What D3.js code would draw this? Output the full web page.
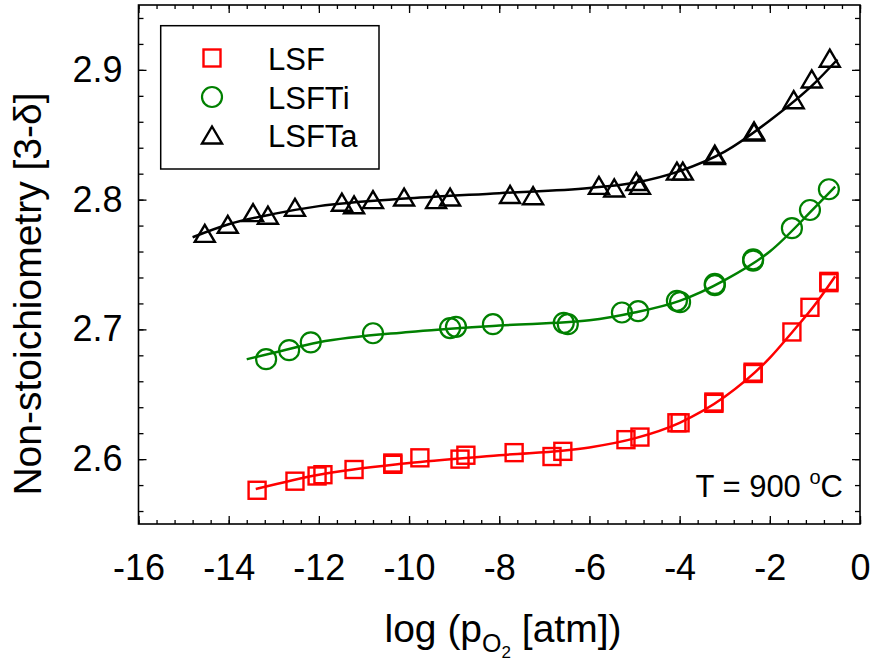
<!DOCTYPE html>
<html><head><meta charset="utf-8">
<script src="https://cdn.jsdelivr.net/npm/d3@7"></script>
<style>body{margin:0;background:#fff;} svg{display:block;font-family:"Liberation Sans",Arial,sans-serif;}</style>
</head><body><svg id="c" width="872" height="664"></svg>
<script>
// ---- data ----
const xTickValues = [-16, -14, -12, -10, -8, -6, -4, -2, 0];
const xTickLabels = ["-16", "-14", "-12", "-10", "-8", "-6", "-4", "-2", "0"];
const yTickValues = [2.6, 2.7, 2.8, 2.9];
const yTickLabels = ["2.6", "2.7", "2.8", "2.9"];
const seriesNames = ["LSF", "LSFTi", "LSFTa"];
const seriesColors = ["#ff0000", "#008000", "#000000"];

const lsfLogP = [-13.37,-12.53,-12.04,-11.91,-11.22,-10.36,-10.36,-9.76,-8.87,-8.74,-7.67,-6.83,-6.59,-5.19,-4.88,-4.06,-3.99,-3.24,-3.24,-2.37,-2.37,-1.51,-1.11,-0.69,-0.69];
const lsfVal  = [2.576,2.583,2.587,2.588,2.592,2.597,2.596,2.601,2.600,2.603,2.605,2.602,2.606,2.615,2.617,2.628,2.628,2.643,2.644,2.666,2.667,2.698,2.717,2.737,2.736];

const tiLogP = [-13.17,-12.66,-12.18,-10.80,-9.09,-8.96,-8.14,-6.57,-6.48,-5.28,-4.92,-4.06,-3.99,-3.22,-3.22,-2.37,-2.37,-1.51,-1.11,-0.69];
const tiVal  = [2.677,2.684,2.690,2.697,2.701,2.702,2.704,2.705,2.704,2.713,2.714,2.722,2.721,2.734,2.735,2.754,2.753,2.778,2.792,2.808];

const taLogP = [-14.53,-14.02,-13.46,-13.13,-12.53,-11.49,-11.22,-10.80,-10.11,-9.40,-9.09,-7.76,-7.25,-5.79,-5.45,-4.96,-4.88,-4.06,-3.93,-3.22,-3.22,-2.35,-2.35,-1.47,-1.07,-0.67];
const taVal  = [2.774,2.781,2.790,2.788,2.794,2.798,2.796,2.800,2.802,2.800,2.802,2.804,2.803,2.811,2.809,2.814,2.811,2.822,2.822,2.834,2.835,2.852,2.853,2.877,2.893,2.909];

// fitted curves
const lsfFitX = [-13.4,-12,-10,-8,-6,-5,-4,-3,-2,-1.5,-1,-0.55];
const lsfFitY = [2.577,2.588,2.597,2.603,2.609,2.616,2.628,2.648,2.678,2.698,2.719,2.741];
const tiFitX = [-13.6,-13,-12,-10,-8,-6,-5,-4,-3,-2,-1,-0.55];
const tiFitY = [2.677,2.682,2.690,2.698,2.703,2.707,2.713,2.722,2.738,2.760,2.794,2.810];
const taFitX = [-14.8,-14,-13,-12,-10,-8,-6,-5,-4,-3,-2,-1,-0.5];
const taFitY = [2.771,2.781,2.789,2.795,2.801,2.805,2.809,2.813,2.822,2.837,2.861,2.890,2.908];

// ---- layout ----
const L = 138.5, R = 860, T = 5, B = 524;
const svg = d3.select("#c");
const x = d3.scaleLinear().domain([-16, 0]).range([L, R]);
const y = d3.scaleLinear().domain([2.55, 2.95]).range([B, T]);

const xMinor = d3.range(-16, 0.001, 0.4).map(v => +v.toFixed(2));
const yMinor = d3.range(2.56, 2.9401, 0.02).map(v => +v.toFixed(3));

function styleAxis(g) {
  g.select(".domain").remove();
  g.selectAll("line").attr("stroke", "#000").attr("stroke-width", 1.3);
}
// minor ticks
svg.append("g").attr("transform", `translate(0,${B})`)
  .call(d3.axisBottom(x).tickValues(xMinor).tickSize(-4).tickFormat("")).call(styleAxis);
svg.append("g").attr("transform", `translate(0,${T})`)
  .call(d3.axisTop(x).tickValues(xMinor).tickSize(-4).tickFormat("")).call(styleAxis);
svg.append("g").attr("transform", `translate(${L},0)`)
  .call(d3.axisLeft(y).tickValues(yMinor).tickSize(-5).tickFormat("")).call(styleAxis);
svg.append("g").attr("transform", `translate(${R},0)`)
  .call(d3.axisRight(y).tickValues(yMinor).tickSize(-5).tickFormat("")).call(styleAxis);
// major ticks with labels
const xb = svg.append("g").attr("transform", `translate(0,${B})`)
  .call(d3.axisBottom(x).tickValues(xTickValues).tickSize(-8).tickPadding(30)
    .tickFormat((d, i) => xTickLabels[i]))
  .call(styleAxis);
xb.selectAll("text").attr("font-size", 36).attr("fill", "#000")
  .attr("font-family", '"Liberation Sans",Arial,sans-serif');
svg.append("g").attr("transform", `translate(0,${T})`)
  .call(d3.axisTop(x).tickValues(xTickValues).tickSize(-8).tickFormat("")).call(styleAxis);
const yl = svg.append("g").attr("transform", `translate(${L},0)`)
  .call(d3.axisLeft(y).tickValues(yTickValues).tickSize(-8).tickPadding(16)
    .tickFormat((d, i) => yTickLabels[i]))
  .call(styleAxis);
yl.selectAll("text").attr("font-size", 36).attr("fill", "#000")
  .attr("font-family", '"Liberation Sans",Arial,sans-serif');
svg.append("g").attr("transform", `translate(${R},0)`)
  .call(d3.axisRight(y).tickValues(yTickValues).tickSize(-8).tickFormat("")).call(styleAxis);

// frame
svg.append("rect").attr("x", L).attr("y", T).attr("width", R - L).attr("height", B - T)
  .attr("fill", "none").attr("stroke", "#000").attr("stroke-width", 1.6);

// fit curves
const line = d3.line().x(d => x(d[0])).y(d => y(d[1])).curve(d3.curveMonotoneX);
const fits = [[lsfFitX, lsfFitY], [tiFitX, tiFitY], [taFitX, taFitY]];
fits.forEach((f, i) => {
  svg.append("path").datum(f[0].map((v, j) => [v, f[1][j]]))
    .attr("d", line).attr("fill", "none").attr("stroke", seriesColors[i]).attr("stroke-width", 2.5);
});

// markers
function drawMarker(g, type, cx, cy, color) {
  if (type === 0) {
    g.append("rect").attr("x", cx - 8.5).attr("y", cy - 8.5).attr("width", 17).attr("height", 17)
      .attr("fill", "none").attr("stroke", color).attr("stroke-width", 2.4);
  } else if (type === 1) {
    g.append("circle").attr("cx", cx).attr("cy", cy).attr("r", 10)
      .attr("fill", "none").attr("stroke", color).attr("stroke-width", 2.2);
  } else {
    const w = 20, h = 17;
    g.append("path").attr("d", `M${cx},${cy - h / 2}L${cx + w / 2},${cy + h / 2}L${cx - w / 2},${cy + h / 2}Z`)
      .attr("fill", "none").attr("stroke", color).attr("stroke-width", 2.4).attr("stroke-linejoin", "miter");
  }
}
const pts = [[lsfLogP, lsfVal], [tiLogP, tiVal], [taLogP, taVal]];
pts.forEach((p, i) => {
  const g = svg.append("g");
  p[0].forEach((v, j) => drawMarker(g, i, x(v), y(p[1][j]), seriesColors[i]));
});

// legend
const lg = svg.append("g");
lg.append("rect").attr("x", 160.7).attr("y", 25.7).attr("width", 218.3).attr("height", 143.3)
  .attr("fill", "#fff").attr("stroke", "#000").attr("stroke-width", 1.5);
const legY = [58, 97, 135];
seriesNames.forEach((n, i) => {
  drawMarker(lg, i, 212, legY[i], seriesColors[i]);
  lg.append("text").attr("x", 268).attr("y", legY[i] + 11.5).attr("font-size", 31).attr("fill", "#000").text(n);
});

// annotation
const ann = svg.append("text").attr("x", 843).attr("y", 497).attr("text-anchor", "end")
  .attr("font-size", 31).attr("fill", "#000");
ann.append("tspan").text("T = 900 ");
ann.append("tspan").attr("font-size", 20).attr("dy", -13).text("o");
ann.append("tspan").attr("dy", 13).text("C");

// axis titles
const xt = svg.append("text").attr("x", 503).attr("y", 642).attr("text-anchor", "middle")
  .attr("font-size", 39).attr("fill", "#000");
xt.append("tspan").text("log (p");
xt.append("tspan").attr("font-size", 25).attr("dy", 10).text("O");
xt.append("tspan").attr("font-size", 17).attr("dy", 6).text("2");
xt.append("tspan").attr("dy", -16).text(" [atm])");

svg.append("text").attr("transform", "translate(41,294) rotate(-90)").attr("text-anchor", "middle")
  .attr("font-size", 39).attr("fill", "#000").text("Non-stoichiometry [3-δ]");
</script>
</body></html>
